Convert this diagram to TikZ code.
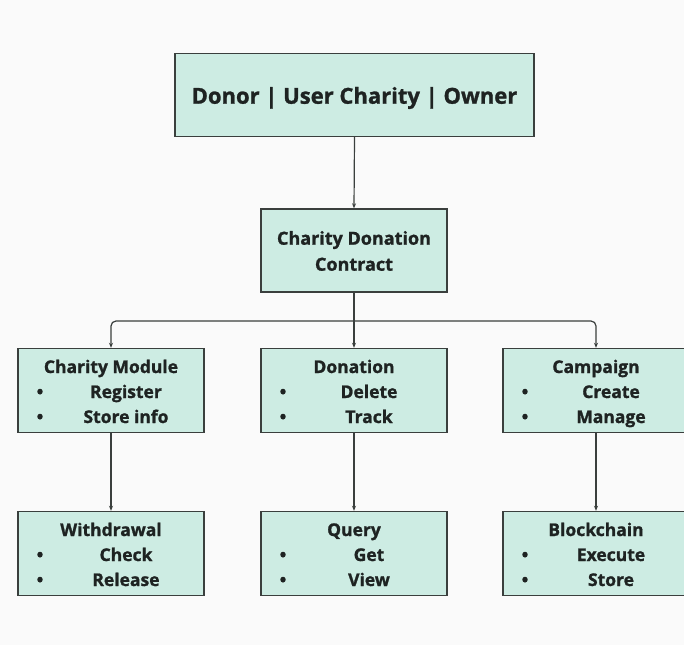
\documentclass[tikz,border=0pt]{standalone}
\usepackage{fontspec}
\setmainfont{Open Sans}[BoldFeatures={FakeBold=1.2}]
\usetikzlibrary{arrows.meta}
\definecolor{boxfill}{HTML}{CDECE3}
\definecolor{edge}{HTML}{3A3F3D}
\definecolor{ink}{HTML}{1E2322}
\newcommand{\itm}[1]{\makebox[186pt][l]{\strut\makebox[44pt]{\textbullet}\makebox[128pt]{#1}}}
\newcommand{\ttl}[1]{\rule[-7.5pt]{0pt}{30pt}#1}
\begin{document}
\begin{tikzpicture}[x=1pt,y=-1pt,
  box/.style={draw=edge,line width=1.4pt,fill=boxfill,text=ink,font=\bfseries,inner sep=0pt,align=center},
  modbox/.style={box,minimum width=186pt,minimum height=84pt,font=\bfseries\fontsize{17.5}{25}\selectfont},
  arr/.style={draw=edge,line width=1.2pt,-{Stealth[length=5pt,width=4pt]}},
]
\useasboundingbox (0,0) rectangle (684,645);
\fill[white!98!black] (0,0) rectangle (684,645);
\node[box,minimum width=359pt,minimum height=83pt,font=\bfseries\fontsize{22}{26}\selectfont] (top) at (354.5,95) {\raisebox{-3pt}[\height][\depth]{Donor | User Charity | Owner}};
\node[box,minimum width=186pt,minimum height=83pt,font=\bfseries\fontsize{18}{26}\selectfont] (cdc) at (354,250.5) {\rule[-7.8pt]{0pt}{30pt}Charity Donation\\\strut Contract};
\node[modbox] (cm) at (111,390.5) {\ttl{Charity Module}\\\itm{Register}\\\itm{Store info}};
\node[modbox] (don) at (354,390.5) {\ttl{Donation}\\\itm{Delete}\\\itm{Track}};
\node[modbox] (camp) at (596,390.5) {\ttl{Campaign}\\\itm{Create}\\\itm{Manage}};
\node[modbox] (wd) at (111,553.5) {\ttl{Withdrawal}\\\itm{Check}\\\itm{Release}};
\node[modbox] (qr) at (354,553.5) {\ttl{Query}\\\itm{Get}\\\itm{View}};
\node[modbox] (bc) at (596,553.5) {\ttl{Blockchain}\\\itm{Execute}\\\itm{Store}};
\coordinate (j) at (354,321);
\draw[arr] (top.south) -- (cdc.north);
\draw[arr] (cdc.south) -- (don.north);
\draw[arr,rounded corners=5pt] (j) -| (cm.north);
\draw[arr,rounded corners=5pt] (j) -| (camp.north);
\draw[arr] (cm.south) -- (wd.north);
\draw[arr] (don.south) -- (qr.north);
\draw[arr] (camp.south) -- (bc.north);
\end{tikzpicture}
\end{document}
